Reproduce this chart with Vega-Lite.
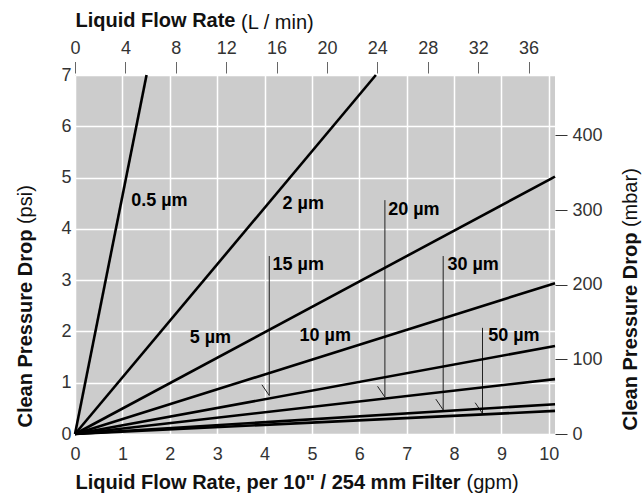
{
  "$schema": "https://vega.github.io/schema/vega-lite/v6.json",
  "autosize": {"type": "none"},
  "padding": {"left": 75, "top": 75, "right": 87, "bottom": 59},
  "width": 480,
  "height": 359,
  "datasets": {
    "lines": [
      {"f": "0.5", "gpm": 0, "psi": 0}, {"f": "0.5", "gpm": 1.51, "psi": 7},
      {"f": "2", "gpm": 0, "psi": 0}, {"f": "2", "gpm": 6.35, "psi": 7},
      {"f": "5", "gpm": 0, "psi": 0}, {"f": "5", "gpm": 10.13, "psi": 5.02},
      {"f": "10", "gpm": 0, "psi": 0}, {"f": "10", "gpm": 10.13, "psi": 2.94},
      {"f": "15", "gpm": 0, "psi": 0}, {"f": "15", "gpm": 10.13, "psi": 1.715},
      {"f": "20", "gpm": 0, "psi": 0}, {"f": "20", "gpm": 10.13, "psi": 1.07},
      {"f": "30", "gpm": 0, "psi": 0}, {"f": "30", "gpm": 10.13, "psi": 0.58},
      {"f": "50", "gpm": 0, "psi": 0}, {"f": "50", "gpm": 10.13, "psi": 0.45}
    ],
    "leaders": [
      {"f": "15", "gpm": 4.10, "top": 3.47, "tip": 0.75, "bx": 3.945, "by": 0.96},
      {"f": "20", "gpm": 6.54, "top": 4.56, "tip": 0.72, "bx": 6.385, "by": 0.93},
      {"f": "30", "gpm": 7.77, "top": 3.47, "tip": 0.47, "bx": 7.615, "by": 0.68},
      {"f": "50", "gpm": 8.60, "top": 2.07, "tip": 0.40, "bx": 8.445, "by": 0.61}
    ],
    "labels": [
      {"t": "0.5 µm", "gpm": 1.185, "psi": 4.55},
      {"t": "2 µm", "gpm": 4.38, "psi": 4.49},
      {"t": "5 µm", "gpm": 2.42, "psi": 1.87},
      {"t": "10 µm", "gpm": 4.74, "psi": 1.92},
      {"t": "15 µm", "gpm": 4.17, "psi": 3.29},
      {"t": "20 µm", "gpm": 6.61, "psi": 4.36},
      {"t": "30 µm", "gpm": 7.86, "psi": 3.29},
      {"t": "50 µm", "gpm": 8.72, "psi": 1.92}
    ],
    "alt": [{"lpm": 0, "mbar": 0}]
  },
  "config": {
    "view": {"fill": "#cccccc", "stroke": null},
    "font": "Liberation Sans",
    "axis": {
      "labelFont": "Liberation Sans",
      "titleFont": "Liberation Sans",
      "labelFontSize": 18,
      "titleFontSize": 20,
      "labelColor": "#333333",
      "titleColor": "#111111",
      "labelFlush": false,
      "labelOverlap": false,
      "labelBound": false,
      "domain": false,
      "ticks": false,
      "grid": false,
      "titleAlign": "left",
      "titleBaseline": "middle"
    }
  },
  "resolve": {
    "scale": {"x": "independent", "y": "independent"},
    "axis": {"x": "independent", "y": "independent"}
  },
  "layer": [
    {
      "data": {"name": "lines"},
      "mark": {"type": "point", "opacity": 0},
      "encoding": {
        "x": {"field": "gpm", "type": "quantitative",
          "scale": {"domain": [0, 10.13], "nice": false, "zero": false},
          "axis": {"orient": "bottom", "values": [0,1,2,3,4,5,6,7,8,9,10],
            "grid": true, "gridColor": "#ffffff", "gridWidth": 1.5, "gridOpacity": 1,
            "labelPadding": 11,
            "title": "Liquid Flow Rate, per 10\" / 254 mm Filter", "titleFontWeight": "bold",
            "titleX": 0, "titleY": 48}},
        "y": {"field": "psi", "type": "quantitative",
          "scale": {"domain": [0, 7], "nice": false, "zero": false},
          "axis": {"orient": "left", "values": [0,1,2,3,4,5,6,7],
            "grid": true, "gridColor": "#ffffff", "gridWidth": 1.5, "gridOpacity": 1,
            "labelPadding": 4,
            "title": "Clean Pressure Drop", "titleFontWeight": "bold", "titleAngle": -90,
            "titleX": -50, "titleY": 352}}
      }
    },
    {
      "data": {"name": "lines"},
      "mark": {"type": "point", "opacity": 0},
      "encoding": {
        "x": {"field": "gpm", "type": "quantitative",
          "scale": {"domain": [0, 10.13], "nice": false, "zero": false},
          "axis": {"orient": "bottom", "labels": false,
            "title": "(gpm)", "titleFontWeight": "normal", "titleX": 391, "titleY": 48}},
        "y": {"field": "psi", "type": "quantitative",
          "scale": {"domain": [0, 7], "nice": false, "zero": false},
          "axis": {"orient": "left", "labels": false,
            "title": "(psi)", "titleFontWeight": "normal", "titleAngle": -90,
            "titleX": -50, "titleY": 148.6}}
      }
    },
    {
      "data": {"name": "alt"},
      "mark": {"type": "point", "opacity": 0},
      "encoding": {
        "x": {"field": "lpm", "type": "quantitative",
          "scale": {"domain": [0, 38.1], "nice": false, "zero": false},
          "axis": {"orient": "top", "values": [0,4,8,12,16,20,24,28,32,36],
            "ticks": true, "tickSize": 11.5, "tickColor": "#666666", "tickWidth": 1,
            "offset": 2, "labelPadding": 4,
            "title": "Liquid Flow Rate", "titleFontWeight": "bold", "titleAngle": 0,
            "titleX": 0, "titleY": -53}},
        "y": {"field": "mbar", "type": "quantitative",
          "scale": {"domain": [0, 481], "nice": false, "zero": false},
          "axis": {"orient": "right", "values": [0,100,200,300,400],
            "ticks": true, "tickSize": 12, "tickColor": "#333333", "tickWidth": 1,
            "labelPadding": 5,
            "title": "Clean Pressure Drop", "titleFontWeight": "bold", "titleAngle": -90,
            "titleX": 75, "titleY": 355}}
      }
    },
    {
      "data": {"name": "alt"},
      "mark": {"type": "point", "opacity": 0},
      "encoding": {
        "x": {"field": "lpm", "type": "quantitative",
          "scale": {"domain": [0, 38.1], "nice": false, "zero": false},
          "axis": {"orient": "top", "labels": false,
            "title": "(L / min)", "titleFontWeight": "normal", "titleAngle": 0,
            "titleX": 165.6, "titleY": -53}},
        "y": {"field": "mbar", "type": "quantitative",
          "scale": {"domain": [0, 481], "nice": false, "zero": false},
          "axis": {"orient": "right", "labels": false,
            "title": "(mbar)", "titleFontWeight": "normal", "titleAngle": -90,
            "titleX": 75, "titleY": 151.6}}
      }
    },
    {
      "data": {"name": "leaders"},
      "mark": {"type": "rule", "color": "#222222", "strokeWidth": 1},
      "encoding": {
        "x": {"field": "gpm", "type": "quantitative", "scale": {"domain": [0, 10.13], "nice": false, "zero": false}, "axis": null},
        "y": {"field": "top", "type": "quantitative", "scale": {"domain": [0, 7], "nice": false, "zero": false}, "axis": null},
        "y2": {"field": "tip"}
      }
    },
    {
      "data": {"name": "leaders"},
      "mark": {"type": "rule", "color": "#222222", "strokeWidth": 1},
      "encoding": {
        "x": {"field": "bx", "type": "quantitative", "scale": {"domain": [0, 10.13], "nice": false, "zero": false}, "axis": null},
        "y": {"field": "by", "type": "quantitative", "scale": {"domain": [0, 7], "nice": false, "zero": false}, "axis": null},
        "x2": {"field": "gpm"},
        "y2": {"field": "tip"}
      }
    },
    {
      "data": {"name": "lines"},
      "mark": {"type": "line", "color": "#000000", "strokeWidth": 2.6},
      "encoding": {
        "x": {"field": "gpm", "type": "quantitative", "scale": {"domain": [0, 10.13], "nice": false, "zero": false}, "axis": null},
        "y": {"field": "psi", "type": "quantitative", "scale": {"domain": [0, 7], "nice": false, "zero": false}, "axis": null},
        "detail": {"field": "f"}
      }
    },
    {
      "data": {"name": "labels"},
      "mark": {"type": "text", "align": "left", "baseline": "middle", "font": "Liberation Sans", "fontSize": 18, "fontWeight": "bold", "color": "#000000"},
      "encoding": {
        "x": {"field": "gpm", "type": "quantitative", "scale": {"domain": [0, 10.13], "nice": false, "zero": false}, "axis": null},
        "y": {"field": "psi", "type": "quantitative", "scale": {"domain": [0, 7], "nice": false, "zero": false}, "axis": null},
        "text": {"field": "t"}
      }
    }
  ]
}
